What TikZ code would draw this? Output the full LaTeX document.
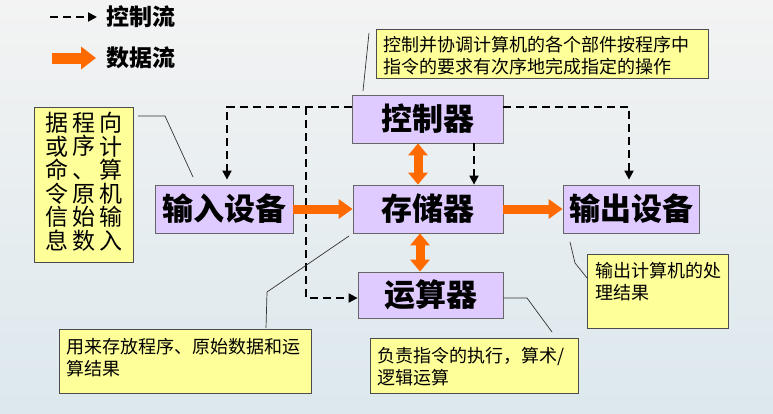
\documentclass[tikz,border=0pt]{standalone}
\usepackage{fontspec}
\newfontfamily\cjk{Noto Sans CJK SC}
\usetikzlibrary{arrows.meta}
\definecolor{boxfill}{HTML}{DFCBFF}
\definecolor{notefill}{HTML}{FFFF99}
\definecolor{dataor}{HTML}{FF6A00}
\definecolor{bgtop}{HTML}{F3F3F3}
\definecolor{bgbot}{HTML}{DCE8ED}
\tikzset{
  unit/.style={draw=gray!80!black, fill=boxfill, line width=0.8pt,
    font=\cjk\bfseries\fontsize{31}{33}\selectfont, inner sep=0pt},
  note/.style={draw=gray!60!black, fill=notefill, line width=0.8pt, inner sep=0pt},
  notetext/.style={font=\cjk\fontsize{18}{22}\selectfont, align=left, inner sep=0pt, anchor=west},
  coltext/.style={font=\cjk\fontsize{23}{23.6}\selectfont, align=center, inner sep=0pt, anchor=north},
  legtext/.style={font=\cjk\bfseries\fontsize{23}{25}\selectfont, inner sep=0pt},
  ctl/.style={line width=1.9pt, dash pattern=on 8pt off 5pt, -{Triangle[length=9pt,width=9pt]}},
  data/.style={draw=dataor, line width=9pt, -{Triangle[length=14pt,width=19pt]}},
  data2/.style={draw=dataor, line width=9pt, {Triangle[length=12pt,width=19pt]}-{Triangle[length=12pt,width=19pt]}},
  leader/.style={draw=gray!40!black, line width=0.7pt}
}
\begin{document}
\begin{tikzpicture}[x=1pt,y=-1pt]
\useasboundingbox (0,0) rectangle (773,413);
\fill[top color=bgtop, bottom color=bgbot] (0,0) rectangle (773,413);

% legend
\coordinate (l1a) at (50,17); \coordinate (l1b) at (97,17);
\draw[ctl] (l1a) -- (l1b);
\node[legtext] (lg1) at (141,17) {控制流};
\coordinate (l2a) at (52,58); \coordinate (l2b) at (96,58);
\draw[draw=dataor, line width=11pt, -{Triangle[length=15pt,width=22pt]}] (l2a) -- (l2b);
\node[legtext] (lg2) at (141,58) {数据流};

% units
\node[unit, minimum width=151pt, minimum height=48pt] (ctrl) at (427.5,119) {控制器};
\node[unit, minimum width=150pt, minimum height=48pt] (mem) at (428,209) {存储器};
\node[unit, minimum width=138pt, minimum height=48pt] (in) at (224,209) {输入设备};
\node[unit, minimum width=136pt, minimum height=48pt] (out) at (631,209) {输出设备};
\node[unit, minimum width=145pt, minimum height=46pt] (alu) at (430.5,295) {运算器};

% control flow
\coordinate (cl) at (227,107);
\coordinate (cb) at (306,107);
\coordinate (cr) at (629,107);
\draw[ctl, shorten >=5pt] (ctrl.west |- cl) -- (cl) -- (cl |- in.north);
\draw[ctl] (cb) -- (306,298) -- (alu.west |- 0,298);
\draw[ctl] (ctrl.south -| 474,0) -- (mem.north -| 474,0);
\draw[ctl, shorten >=5pt] (ctrl.east |- cr) -- (cr) -- (cr |- out.north);

% data flow
\draw[data] (in.east) -- (mem.west);
\draw[data] (mem.east) -- (out.west);
\draw[data2] (ctrl.south -| 418,0) -- (mem.north -| 418,0);
\draw[data2] (mem.south -| 420,0) -- (alu.north -| 420,0);

% notes
\node[note, minimum width=332pt, minimum height=49pt] (n1) at (542,53.5) {};
\node[notetext] (t1) at (383,56) {控制并协调计算机的各个部件按程序中\\指令的要求有次序地完成指定的操作};
\coordinate (p1a) at (369,33); \coordinate (p1b) at (363,91);
\draw[leader] (p1a) -- (p1b);

\node[note, minimum width=99pt, minimum height=155pt] (n2) at (83.5,184.5) {};
\node[coltext] (c1) at (111,112) {向\\计\\算\\机\\输\\入};
\node[coltext] (c2) at (84,112) {程\\序\\、\\原\\始\\数};
\node[coltext] (c3) at (57,112) {据\\或\\命\\令\\信\\息};
\coordinate (p2a) at (138,116); \coordinate (p2b) at (165,116); \coordinate (p2c) at (193,177);
\draw[leader] (p2a) -- (p2b) -- (p2c);

\node[note, minimum width=252pt, minimum height=64pt] (n3) at (185,361) {};
\node[notetext] (t3) at (66,358) {用来存放程序、原始数据和运\\算结果};
\coordinate (p3a) at (266,328); \coordinate (p3b) at (267,292); \coordinate (p3c) at (349,236);
\draw[leader] (p3a) -- (p3b) -- (p3c);

\node[note, minimum width=208pt, minimum height=55pt] (n4) at (474,365.5) {};
\node[notetext] (t4) at (377,367) {负责指令的执行，算术/\\逻辑运算};
\coordinate (p4b) at (527,298); \coordinate (p4c) at (552,332);
\draw[leader] (alu.east |- p4b) -- (p4b) -- (p4c);

\node[note, minimum width=141pt, minimum height=74pt] (n5) at (657.5,291) {};
\node[notetext] (t5) at (595,282) {输出计算机的处\\理结果};
\coordinate (p5a) at (570,242); \coordinate (p5b) at (575,263); \coordinate (p5c) at (587,278);
\draw[leader] (p5a) -- (p5b) -- (p5c);
\end{tikzpicture}
\end{document}
